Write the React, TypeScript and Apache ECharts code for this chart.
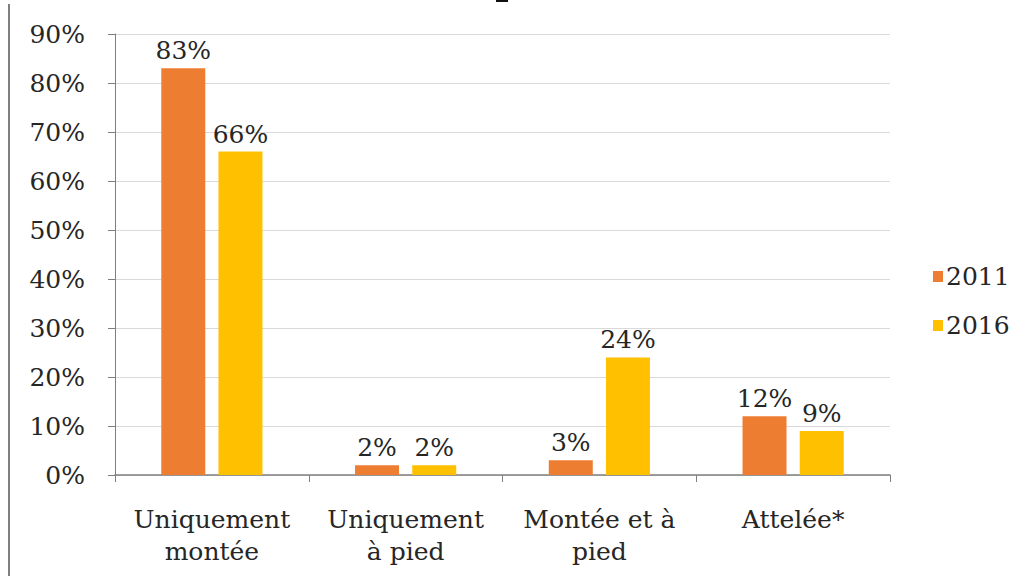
import React, { useEffect, useRef } from "react";
import * as echarts from "echarts";

const categories = ["Uniquement\nmontée", "Uniquement\nà pied", "Montée et à\npied", "Attelée*"];
const values2011 = [83, 2, 3, 12];
const values2016 = [66, 2, 24, 9];
const seriesNames = ["2011", "2016"];
const FONT = "DejaVu Serif";

export default function App() {
  const ref = useRef<HTMLDivElement>(null);
  useEffect(() => {
    const chart = echarts.init(ref.current!, null, { renderer: "svg" });
    const labelStyle = {
      show: true,
      position: "top" as const,
      formatter: "{c}%",
      fontFamily: FONT,
      fontSize: 25,
      color: "#262626",
      distance: 5,
    };
    chart.setOption({
      animation: false,
      backgroundColor: "#ffffff",
      textStyle: { fontFamily: FONT },
      grid: { left: 115, right: 133, top: 34, bottom: 101, containLabel: false },
      legend: {
        orient: "vertical",
        left: 928,
        top: 259,
        itemWidth: 10,
        itemHeight: 11,
        itemGap: 24,
        icon: "rect",
        textStyle: { fontFamily: FONT, fontSize: 25, color: "#262626", padding: [0, 0, 0, -2] },
        data: seriesNames,
      },
      xAxis: {
        type: "category",
        data: categories,
        axisLine: { lineStyle: { color: "#7f7f7f", width: 1.5 } },
        axisTick: { show: true, length: 7, lineStyle: { color: "#7f7f7f" } },
        axisLabel: {
          fontFamily: FONT,
          fontSize: 25,
          color: "#262626",
          lineHeight: 32,
          margin: 28,
          interval: 0,
        },
      },
      yAxis: {
        type: "value",
        min: 0,
        max: 90,
        interval: 10,
        axisLine: { show: true, lineStyle: { color: "#7f7f7f" } },
        axisTick: { show: true, length: 7, lineStyle: { color: "#7f7f7f" } },
        splitLine: { lineStyle: { color: "#d9d9d9" } },
        axisLabel: {
          formatter: "{value}%",
          fontFamily: FONT,
          fontSize: 25,
          color: "#262626",
          margin: 30,
        },
      },
      graphic: [
        { type: "line", shape: { x1: 9, y1: 4, x2: 9, y2: 576 }, style: { stroke: "#555", lineWidth: 1.5 } },
        { type: "rect", shape: { x: 496, y: 0, width: 12, height: 2 }, style: { fill: "#111" } },
      ],
      series: [
        {
          name: seriesNames[0],
          type: "bar",
          data: values2011,
          barWidth: 44,
          barGap: "30%",
          itemStyle: { color: "#ED7D31" },
          label: labelStyle,
        },
        {
          name: seriesNames[1],
          type: "bar",
          data: values2016,
          barWidth: 44,
          itemStyle: { color: "#FFC000" },
          label: labelStyle,
        },
      ],
    });
    return () => chart.dispose();
  }, []);
  return <div ref={ref} style={{ position: "fixed", left: 0, top: 0, width: 1023, height: 576 }} />;
}
